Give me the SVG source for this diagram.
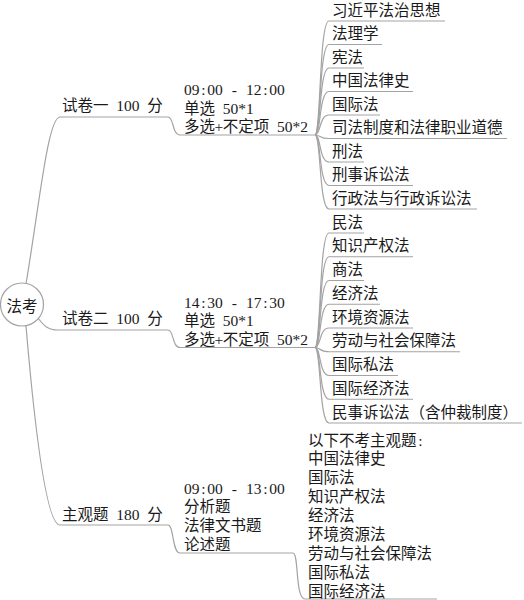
<svg xmlns="http://www.w3.org/2000/svg" width="524" height="600" viewBox="0 0 524 600">
<style>
.t{font-family:"Liberation Serif","Noto Sans CJK SC",serif;font-size:15.5px;fill:#1a1a1a}
.c{fill:none;stroke:#a3a3a3;stroke-width:1.2}
</style>
<rect width="524" height="600" fill="#ffffff"/>
<g id="connectors" class="c">
<path d="M26,284 C40,200 48,117 60,117 L168,117 C174,117 172,135 180,135 L315,135"/>
<path d="M38,318 C44,326 48,330 58,330 L168,330 C174,330 172,347.5 180,347.5 L315,347.5"/>
<path d="M26,326 C34,420 46,525 60,525 L168,525 C174,525 172,553 180,553 L293,553 C299,553 295,599 305,599 L437,599"/>
<path d="M315,135 C321,135 319,21 329,21 L445,21"/>
<path d="M315,135 C321,135 319,44.5 329,44.5 L382,44.5"/>
<path d="M315,135 C321,135 319,68 329,68 L364,68"/>
<path d="M315,135 C321,135 319,91.5 329,91.5 L413,91.5"/>
<path d="M315,135 C321,135 319,115 329,115 L380,115"/>
<path d="M315,135 C321,135 319,138.5 329,138.5 L507,138.5"/>
<path d="M315,135 C321,135 319,162 329,162 L364,162"/>
<path d="M315,135 C321,135 319,185.5 329,185.5 L413,185.5"/>
<path d="M315,135 C321,135 319,209 329,209 L477,209"/>
<path d="M315,347.5 C321,347.5 319,233 329,233 L364,233"/>
<path d="M315,347.5 C321,347.5 319,256.75 329,256.75 L413,256.75"/>
<path d="M315,347.5 C321,347.5 319,280.5 329,280.5 L364,280.5"/>
<path d="M315,347.5 C321,347.5 319,304.25 329,304.25 L380,304.25"/>
<path d="M315,347.5 C321,347.5 319,328 329,328 L413,328"/>
<path d="M315,347.5 C321,347.5 319,351.75 329,351.75 L460,351.75"/>
<path d="M315,347.5 C321,347.5 319,375.5 329,375.5 L398,375.5"/>
<path d="M315,347.5 C321,347.5 319,399.25 329,399.25 L413,399.25"/>
<path d="M315,347.5 C321,347.5 319,423 329,423 L522,423"/>
</g>
<g id="root">
<circle cx="22" cy="304.5" r="21.5" fill="#ffffff" stroke="#a3a3a3" stroke-width="1.2"/>
<text class="t" x="22" y="312" text-anchor="middle">法考</text>
</g>
<g id="paper1">
<text class="t" x="62 77.5 93 108.5 116.25 124 131.75 139.5 147.25" y="111">试卷一 100 分</text>
</g>
<g id="paper1-info">
<text class="t" x="184 191.75 201.2 207.25 215 222.75 231.8 238.25 246 253.75 263.2 269.25 277" y="95">09:00 - 12:00</text>
<text class="t" x="184 199.5 215 222.75 230.5 238.25 246" y="113.5">单选 50*1</text>
<text class="t" x="184 199.5 214.5 222.75 238.25 253.75 269.25 277 284.75 292.5 300.25" y="132">多选+不定项 50*2</text>
</g>
<g id="paper1-subjects">
<text class="t" x="332" y="15.5">习近平法治思想</text>
<text class="t" x="332" y="39">法理学</text>
<text class="t" x="332" y="62.5">宪法</text>
<text class="t" x="332" y="86">中国法律史</text>
<text class="t" x="332" y="109.5">国际法</text>
<text class="t" x="332" y="133">司法制度和法律职业道德</text>
<text class="t" x="332" y="156.5">刑法</text>
<text class="t" x="332" y="180">刑事诉讼法</text>
<text class="t" x="332" y="203.5">行政法与行政诉讼法</text>
</g>
<g id="paper2">
<text class="t" x="62 77.5 93 108.5 116.25 124 131.75 139.5 147.25" y="324">试卷二 100 分</text>
</g>
<g id="paper2-info">
<text class="t" x="184 191.75 201.2 207.25 215 222.75 231.8 238.25 246 253.75 263.2 269.25 277" y="307.5">14:30 - 17:30</text>
<text class="t" x="184 199.5 215 222.75 230.5 238.25 246" y="326">单选 50*1</text>
<text class="t" x="184 199.5 214.5 222.75 238.25 253.75 269.25 277 284.75 292.5 300.25" y="344.5">多选+不定项 50*2</text>
</g>
<g id="paper2-subjects">
<text class="t" x="332" y="227.5">民法</text>
<text class="t" x="332" y="251.25">知识产权法</text>
<text class="t" x="332" y="275">商法</text>
<text class="t" x="332" y="298.75">经济法</text>
<text class="t" x="332" y="322.5">环境资源法</text>
<text class="t" x="332" y="346.25">劳动与社会保障法</text>
<text class="t" x="332" y="370">国际私法</text>
<text class="t" x="332" y="393.75">国际经济法</text>
<text class="t" x="332" y="417.5">民事诉讼法（含仲裁制度）</text>
</g>
<g id="paper3">
<text class="t" x="62 77.5 93 108.5 116.25 124 131.75 139.5 147.25" y="520">主观题 180 分</text>
</g>
<g id="paper3-info">
<text class="t" x="184 191.75 201.2 207.25 215 222.75 231.8 238.25 246 253.75 263.2 269.25 277" y="493.5">09:00 - 13:00</text>
<text class="t" x="184" y="512">分析题</text>
<text class="t" x="184" y="531">法律文书题</text>
<text class="t" x="184" y="550">论述题</text>
</g>
<g id="paper3-excluded">
<text class="t" x="308 323.5 339 354.5 370 385.5 401 418.2" y="445.5">以下不考主观题:</text>
<text class="t" x="308" y="464.4">中国法律史</text>
<text class="t" x="308" y="483.3">国际法</text>
<text class="t" x="308" y="502.1">知识产权法</text>
<text class="t" x="308" y="521">经济法</text>
<text class="t" x="308" y="539.9">环境资源法</text>
<text class="t" x="308" y="558.8">劳动与社会保障法</text>
<text class="t" x="308" y="577.6">国际私法</text>
<text class="t" x="308" y="596.5">国际经济法</text>
</g>
</svg>
